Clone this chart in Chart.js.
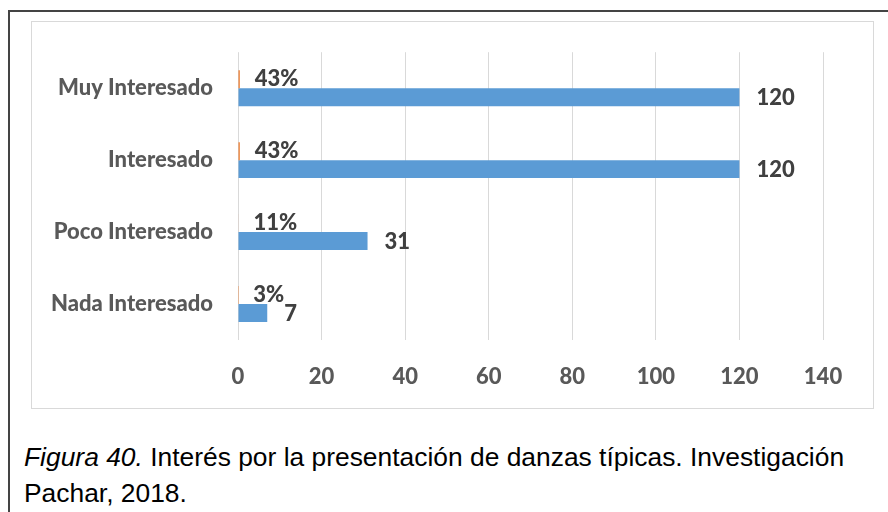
<!DOCTYPE html>
<html>
<head>
<meta charset="utf-8">
<script src="https://cdn.jsdelivr.net/npm/chart.js@4/dist/chart.umd.min.js"></script>
<style>
  body { margin: 0; background: #fff; width: 888px; height: 512px; overflow: hidden; position: relative; }
  .frame { position: absolute; left: 8px; top: 10px; width: 900px; height: 520px; border-left: 2px solid #444; border-top: 2px solid #444; }
  .box { position: absolute; left: 31px; top: 21px; width: 841px; height: 386px; border: 1px solid #d9d9d9; }
  .caption { position: absolute; left: 24px; top: 439px; font-family: "Liberation Sans", Arial, sans-serif; font-size: 26.4px; line-height: 36px; color: #000; white-space: nowrap; }
</style>
</head>
<body>
<div class="frame"></div>
<div class="box"><canvas id="chart"></canvas></div>
<div class="caption"><i>Figura 40.</i> Interés por la presentación de danzas típicas. Investigación<br>Pachar, 2018.</div>
<script>
// data
const categories = ['Muy Interesado', 'Interesado', 'Poco Interesado', 'Nada Interesado'];
const shares = [0.43, 0.43, 0.11, 0.03];
const counts = [120, 120, 31, 7];
const xTicks = [0, 20, 40, 60, 80, 100, 120, 140];

const labelFont = '900 22px Lato, "Open Sans", sans-serif';

// draw value labels next to the end of each bar
const barLabels = {
  id: 'barLabels',
  afterDatasetsDraw(chart) {
    const ctx = chart.ctx;
    ctx.save();
    ctx.font = labelFont;
    ctx.fillStyle = '#404040';
    ctx.textAlign = 'left';
    ctx.textBaseline = 'middle';
    chart.data.datasets.forEach((ds, i) => {
      chart.getDatasetMeta(i).data.forEach((bar, j) => {
        const v = ds.data[j];
        if (i === 0) {
          ctx.fillText(Math.round(v * 100) + '%', bar.x + 15, bar.y);
        } else {
          ctx.fillText(String(v), bar.x + 17, bar.y + 1);
        }
      });
    });
    ctx.restore();
  }
};

new Chart(document.getElementById('chart'), {
  type: 'bar',
  data: {
    labels: categories,
    datasets: [
      { label: 'Porcentaje', data: shares, backgroundColor: '#ed7d31', categoryPercentage: 0.5, barPercentage: 1 },
      { label: 'Frecuencia', data: counts, backgroundColor: '#5b9bd5', categoryPercentage: 0.5, barPercentage: 1 }
    ]
  },
  options: {
    indexAxis: 'y',
    responsive: true,
    maintainAspectRatio: false,
    animation: false,
    layout: { padding: { top: 28, right: 50, bottom: 0, left: 0 } },
    plugins: {
      legend: { display: false },
      tooltip: { enabled: false }
    },
    scales: {
      x: {
        min: 0,
        max: 140,
        afterBuildTicks(scale) { scale.ticks = xTicks.map(v => ({ value: v })); },
        afterFit(scale) { scale.height = 68; },
        grid: { color: '#d9d9d9', drawTicks: false },
        border: { display: false },
        ticks: { color: '#595959', padding: 24, font: { family: 'Lato', size: 22, weight: '900' } }
      },
      y: {
        afterFit(scale) { scale.width = 206; },
        grid: { display: false },
        border: { display: false },
        ticks: { color: '#595959', padding: 17, font: { family: 'Lato', size: 22, weight: '900' } }
      }
    }
  },
  plugins: [barLabels]
});
</script>
</body>
</html>
